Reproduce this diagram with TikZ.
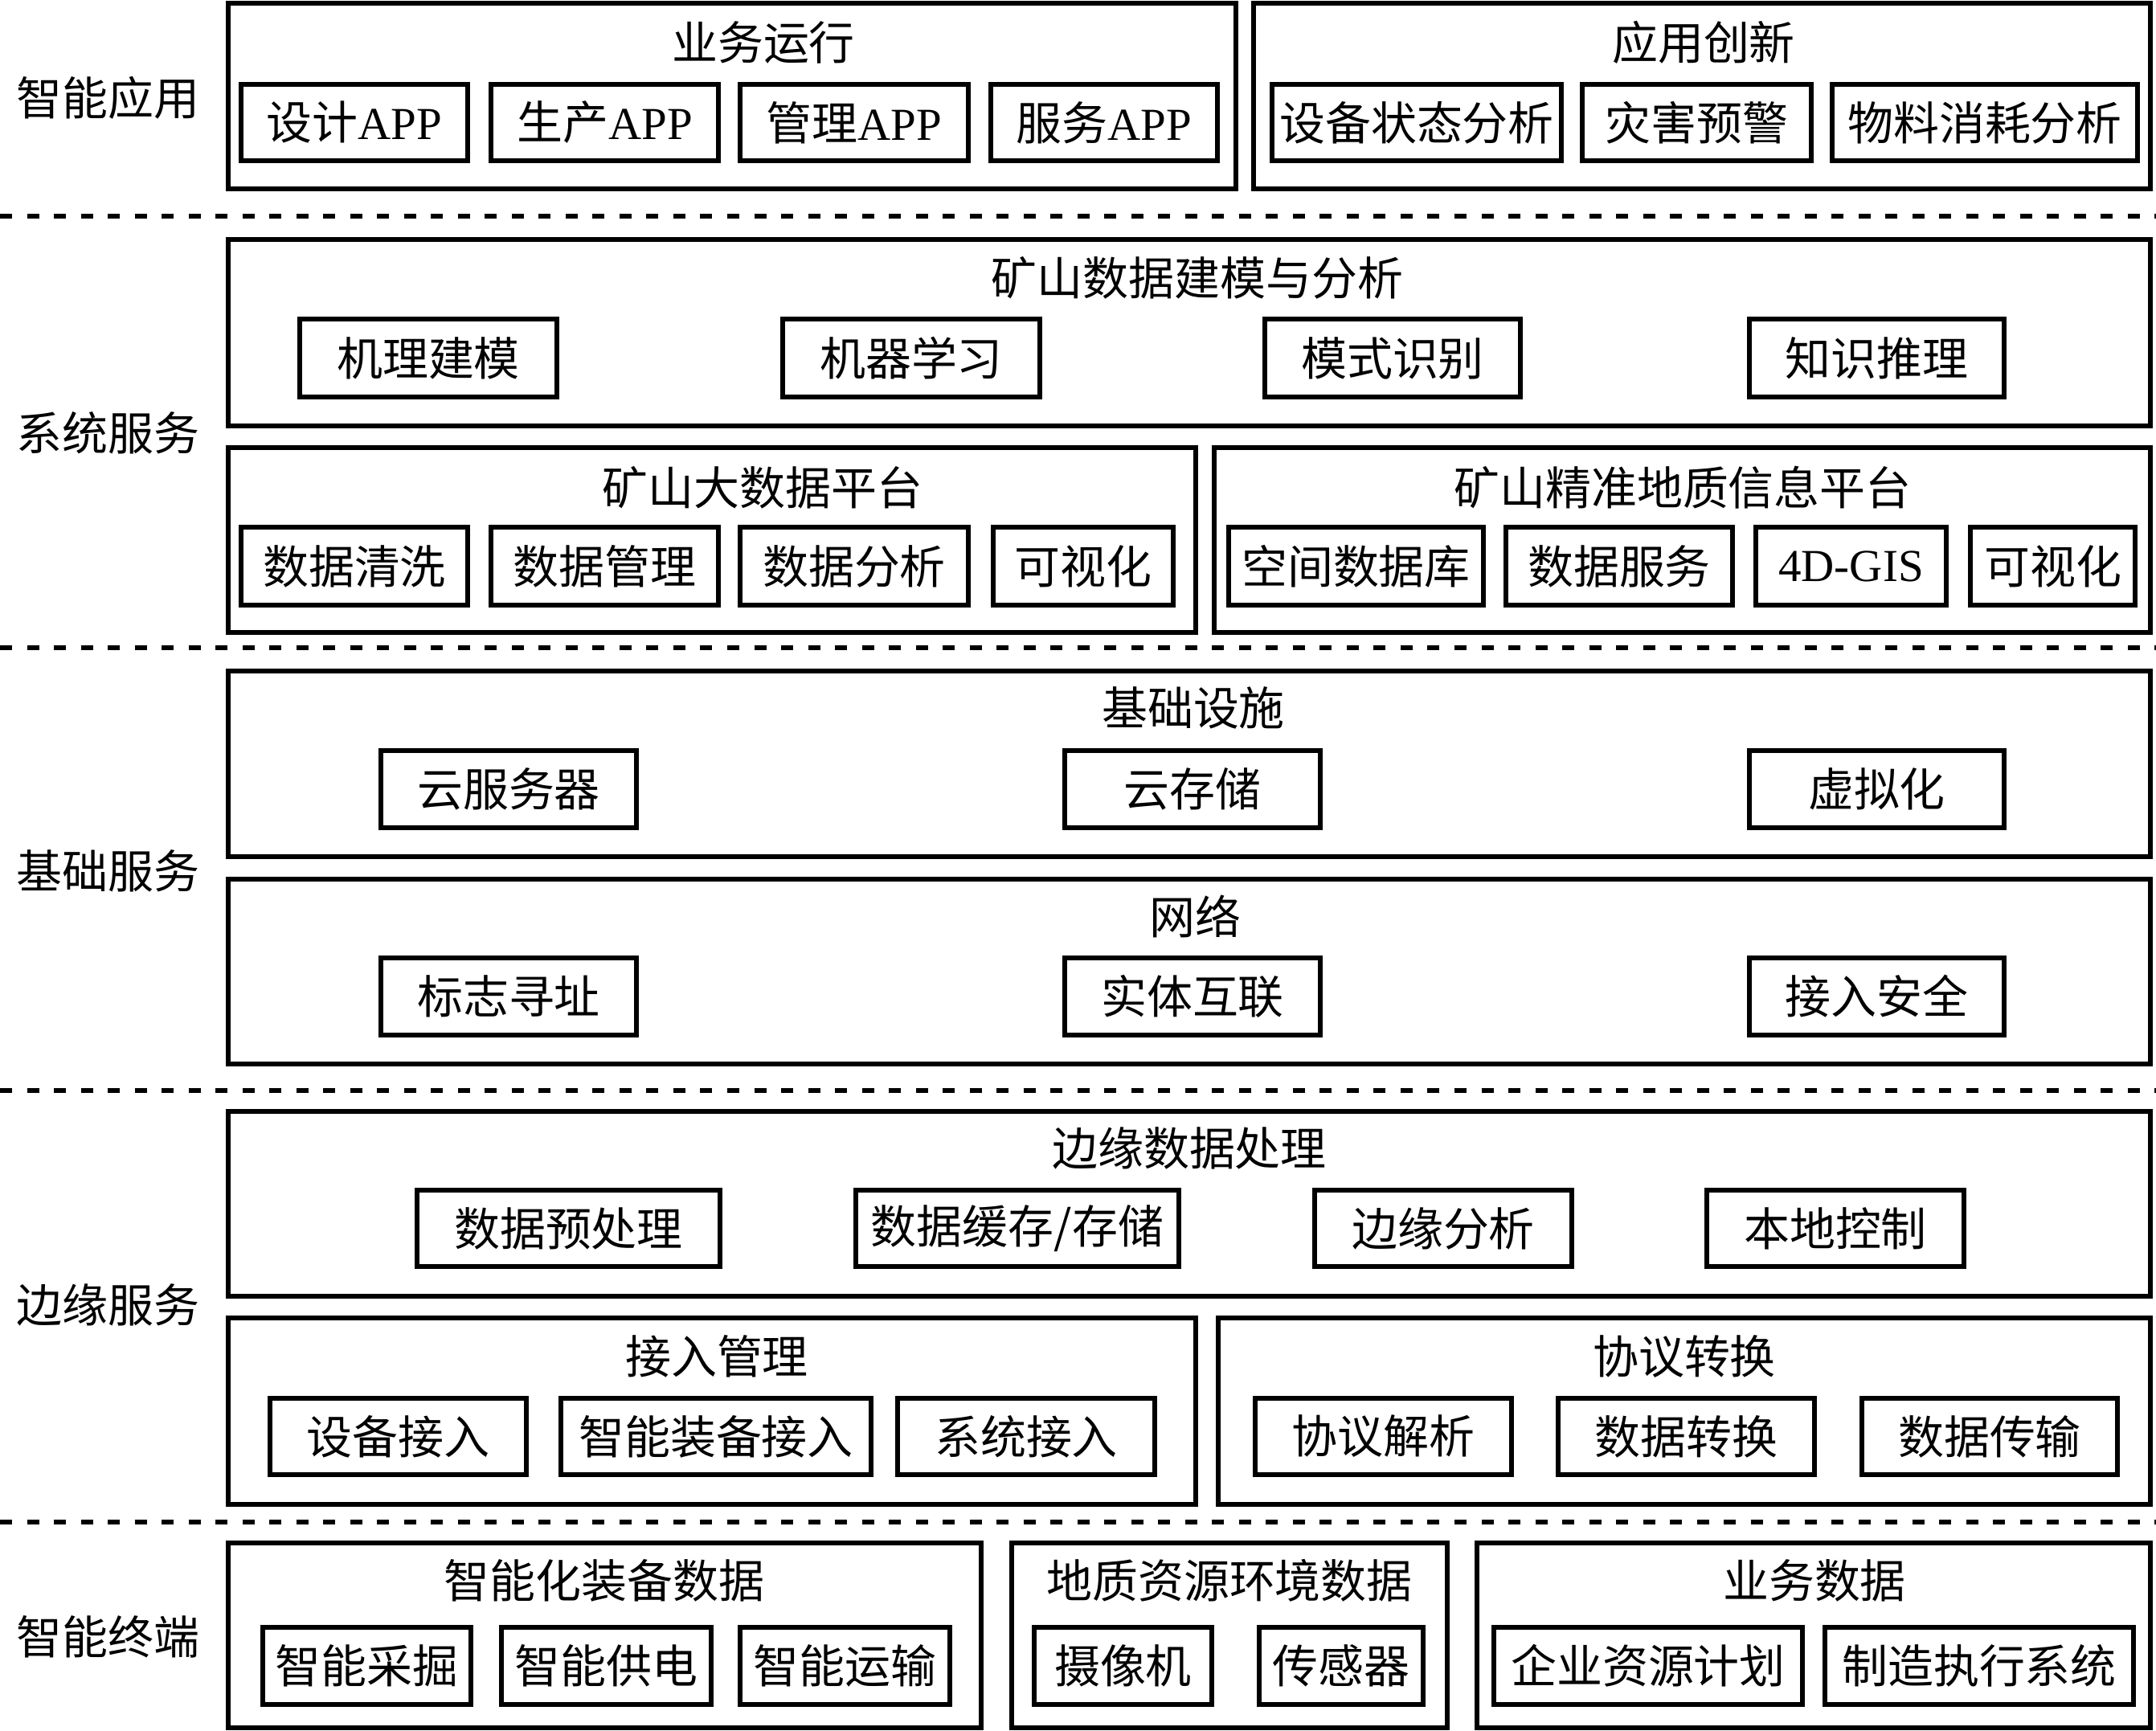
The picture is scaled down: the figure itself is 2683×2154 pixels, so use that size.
\documentclass[tikz,border=0pt]{standalone}
\usepackage{fontspec}
\setmainfont{Noto Sans CJK SC}
\newfontfamily\lat{Liberation Serif}
\usetikzlibrary{fit}
\tikzset{
  every node/.style={font=\fontsize{16.2pt}{19pt}\selectfont, inner sep=0pt},
  obox/.style={draw, line width=1.6pt},
  ibox/.style={draw, line width=1.6pt},
  sep/.style={line width=1.6pt, dash pattern=on 0.15cm off 0.185cm},
  lbl/.style={anchor=west},
}
\newcommand\bx[6]{\node[#1, fit={(#3) (#4)}] (#2) {};\node (#2t) at (#2.center) {#5#6};}
\begin{document}
\begin{tikzpicture}[x=0.01cm,y=-0.01cm]
\useasboundingbox (0,0) rectangle (2683,2154);

% separators
\coordinate (s1a) at (0,269);  \coordinate (s1b) at (2683,269);
\coordinate (s2a) at (0,806);  \coordinate (s2b) at (2683,806);
\coordinate (s3a) at (0,1357); \coordinate (s3b) at (2683,1357);
\coordinate (s4a) at (0,1894); \coordinate (s4b) at (2683,1894);
\draw[sep] (s1a) -- (s1b);
\draw[sep] (s2a) -- (s2b);
\draw[sep] (s3a) -- (s3b);
\draw[sep] (s4a) -- (s4b);

% layer labels
\node[lbl] (L1) at (20,122) {智能应用};
\node[lbl] (L2) at (20,539) {系统服务};
\node[lbl] (L3) at (20,1084) {基础服务};
\node[lbl] (L4) at (20,1624) {边缘服务};
\node[lbl] (L5) at (20,2037) {智能终端};

% ---- 智能应用
\node[obox, fit={(284,4) (1538,235)}] (O1) {};
\node (T1) at (950,53) {业务运行};
\bx{ibox}{a1}{300,105}{582,200}{设计}{{\lat APP}}
\bx{ibox}{a2}{611,105}{894,200}{生产}{{\lat APP}}
\bx{ibox}{a3}{921,105}{1205,200}{管理}{{\lat APP}}
\bx{ibox}{a4}{1233,105}{1515,200}{服务}{{\lat APP}}
\node[obox, fit={(1560,4) (2676,235)}] (O2) {};
\node (T2) at (2120,53) {应用创新};
\bx{ibox}{b1}{1583,105}{1943,200}{设备状态分析}{}
\bx{ibox}{b2}{1969,105}{2254,200}{灾害预警}{}
\bx{ibox}{b3}{2280,105}{2660,200}{物料消耗分析}{}

% ---- 系统服务
\node[obox, fit={(284,298) (2676,530)}] (O3) {};
\node (T3) at (1490,346) {矿山数据建模与分析};
\bx{ibox}{c1}{373,397}{693,494}{机理建模}{}
\bx{ibox}{c2}{974,397}{1294,494}{机器学习}{}
\bx{ibox}{c3}{1574,397}{1892,494}{模式识别}{}
\bx{ibox}{c4}{2177,397}{2494,494}{知识推理}{}
\node[obox, fit={(284,557) (1488,787)}] (O4) {};
\node (T4) at (949,607) {矿山大数据平台};
\bx{ibox}{d1}{300,656}{582,753}{数据清洗}{}
\bx{ibox}{d2}{611,656}{894,753}{数据管理}{}
\bx{ibox}{d3}{921,656}{1205,753}{数据分析}{}
\bx{ibox}{d4}{1236,656}{1460,753}{可视化}{}
\node[obox, fit={(1511,557) (2676,787)}] (O5) {};
\node (T5) at (2094,607) {矿山精准地质信息平台};
\bx{ibox}{e1}{1529,656}{1846,753}{空间数据库}{}
\bx{ibox}{e2}{1874,656}{2156,753}{数据服务}{}
\bx{ibox}{e3}{2185,656}{2422,753}{{\lat 4D-GIS}}{}
\bx{ibox}{e4}{2452,656}{2657,753}{可视化}{}

% ---- 基础服务
\node[obox, fit={(284,835) (2676,1066)}] (O6) {};
\node (T6) at (1485,881) {基础设施};
\bx{ibox}{f1}{474,934}{792,1030}{云服务器}{}
\bx{ibox}{f2}{1325,934}{1643,1030}{云存储}{}
\bx{ibox}{f3}{2177,934}{2494,1030}{虚拟化}{}
\node[obox, fit={(284,1094) (2676,1324)}] (O7) {};
\node (T7) at (1487,1140) {网络};
\bx{ibox}{g1}{474,1192}{792,1288}{标志寻址}{}
\bx{ibox}{g2}{1325,1192}{1643,1288}{实体互联}{}
\bx{ibox}{g3}{2177,1192}{2494,1288}{接入安全}{}

% ---- 边缘服务
\node[obox, fit={(284,1383) (2676,1613)}] (O8) {};
\node (T8) at (1480,1429) {边缘数据处理};
\bx{ibox}{h1}{519,1481}{896,1576}{数据预处理}{}
\bx{ibox}{h2}{1065,1481}{1467,1576}{数据缓存/存储}{}
\bx{ibox}{h3}{1636,1481}{1956,1576}{边缘分析}{}
\bx{ibox}{h4}{2124,1481}{2444,1576}{本地控制}{}
\node[obox, fit={(284,1640) (1488,1872)}] (O9) {};
\node (T9) at (892,1688) {接入管理};
\bx{ibox}{i1}{336,1740}{655,1835}{设备接入}{}
\bx{ibox}{i2}{698,1740}{1084,1835}{智能装备接入}{}
\bx{ibox}{i3}{1117,1740}{1437,1835}{系统接入}{}
\node[obox, fit={(1516,1640) (2676,1872)}] (O10) {};
\node (T10) at (2096,1688) {协议转换};
\bx{ibox}{j1}{1562,1740}{1881,1835}{协议解析}{}
\bx{ibox}{j2}{1939,1740}{2258,1835}{数据转换}{}
\bx{ibox}{j3}{2317,1740}{2635,1835}{数据传输}{}

% ---- 智能终端
\node[obox, fit={(284,1920) (1221,2150)}] (O11) {};
\node (T11) at (752,1967) {智能化装备数据};
\bx{ibox}{k1}{327,2025}{586,2121}{智能采掘}{}
\bx{ibox}{k2}{624,2025}{885,2121}{智能供电}{}
\bx{ibox}{k3}{921,2025}{1182,2121}{智能运输}{}
\node[obox, fit={(1259,1920) (1801,2150)}] (O12) {};
\node (T12) at (1530,1967) {地质资源环境数据};
\bx{ibox}{l1}{1287,2025}{1508,2121}{摄像机}{}
\bx{ibox}{l2}{1567,2025}{1771,2121}{传感器}{}
\node[obox, fit={(1838,1920) (2676,2150)}] (O13) {};
\node (T13) at (2258,1967) {业务数据};
\bx{ibox}{m1}{1859,2025}{2243,2121}{企业资源计划}{}
\bx{ibox}{m2}{2271,2025}{2655,2121}{制造执行系统}{}
\end{tikzpicture}
\end{document}
